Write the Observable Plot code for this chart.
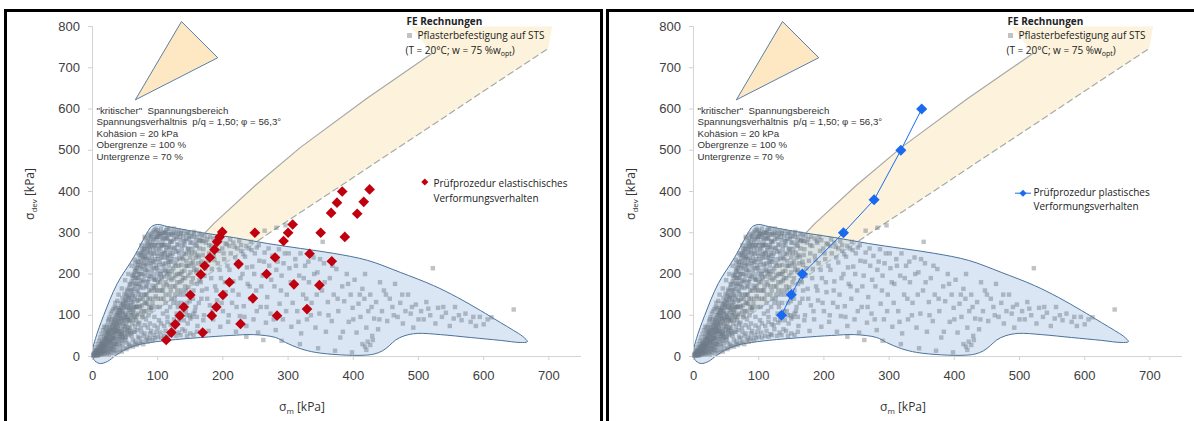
<!DOCTYPE html>
<html><head><meta charset="utf-8">
<script src="https://cdn.jsdelivr.net/npm/d3@7"></script>
<script src="https://cdn.jsdelivr.net/npm/@observablehq/plot@0.6"></script>
<style>
html,body{margin:0;padding:0;background:#fff;width:1194px;height:421px;overflow:hidden;position:relative;}
.frame{position:absolute;border:3px solid #000;box-sizing:border-box;}
.panel{position:absolute;top:0;width:600px;height:421px;}
</style></head><body>
<div class="frame" style="left:4px;top:9px;width:599px;height:440px"></div>
<div class="frame" style="left:606px;top:9px;width:600px;height:440px"></div>
<div id="left" class="panel" style="left:0px"></div>
<div id="right" class="panel" style="left:601px"></div>
<script>
const xTicks = [0,100,200,300,400,500,600,700];
const yTicks = [0,100,200,300,400,500,600,700,800];

// FE Rechnungen: Pflasterbefestigung auf STS  [sigma_m, sigma_dev] (kPa)
const feRechnungen = [
[2,3],[3,6],[4,4],[5,9],[6,7],[6,12],[7,5],[8,14],[8,9],[9,18],[10,11],[10,6],
[11,16],[12,22],[12,10],[13,28],[14,18],[14,13],[15,32],[15,24],[16,15],[16,38],[17,20],[17,28],[18,42],[18,12],[19,33],[19,25],[20,47],[20,18],
[21,36],[21,52],[22,22],[22,29],[23,43],[23,58],[24,16],[24,34],[25,64],[25,48],[26,26],[26,40],[27,70],[27,55],[28,20],[28,33],[29,60],[29,45],[30,76],[30,28],
[31,38],[31,52],[32,82],[32,66],[33,24],[33,44],[34,88],[34,58],[35,72],[35,32],[36,95],[36,48],[37,62],[37,80],[38,100],[38,36],[39,54],[39,70],[40,106],[40,86],[40,42],
[41,60],[41,92],[42,112],[42,76],[43,48],[43,100],[44,66],[44,120],[45,84],[45,40],[46,126],[46,54],[47,94],[47,110],[48,72],[48,132],[49,58],[49,88],[50,140],[50,104],
[51,46],[51,120],[52,150],[52,78],[53,96],[53,64],[54,158],[54,130],[55,112],[55,52],[56,166],[56,86],[57,142],[57,70],[58,124],[58,174],[59,100],[59,56],[60,182],[60,150],
[61,80],[61,114],[62,190],[62,132],[63,60],[63,164],[64,198],[64,96],[65,146],[65,72],[66,206],[66,176],[67,120],[67,88],[68,214],[68,158],[69,64],[69,190],[70,222],[70,104],[70,136],
[71,230],[71,170],[72,82],[72,200],[73,238],[73,120],[74,150],[74,70],[75,246],[75,184],[76,212],[76,96],[77,254],[77,140],[78,226],[78,166],[79,262],[79,110],[80,196],[80,240],[80,76],
[81,268],[81,150],[82,222],[82,90],[83,274],[83,182],[84,250],[84,128],[85,280],[85,206],[86,100],[86,238],[87,286],[87,160],[88,260],[88,80],[89,292],[89,194],[90,226],[90,118],
[91,298],[91,270],[92,172],[92,250],[93,302],[93,140],[94,214],[94,284],[95,96],[95,306],[96,236],[96,186],[97,260],[97,310],[98,120],[98,290],[99,200],[99,160],[100,306],[100,244],
[101,276],[102,88],[102,222],[103,298],[104,180],[104,262],[105,140],[105,310],[106,240],[107,208],[107,286],[108,104],[108,160],[109,300],[110,252],[110,194],
[111,270],[112,226],[112,130],[113,306],[114,174],[114,288],[115,96],[116,246],[116,208],[117,296],[118,150],[118,266],[119,120],[120,230],[120,300],
[121,186],[122,278],[123,76],[123,250],[124,214],[125,300],[126,140],[126,262],[127,196],[128,286],[129,104],[129,236],[130,160],[130,272],
[131,296],[132,220],[133,88],[133,250],[134,180],[135,282],[136,130],[137,260],[137,206],[138,66],[139,292],[139,236],[140,150],
[141,270],[142,190],[143,110],[143,248],[144,296],[145,220],[146,80],[147,262],[147,168],[148,286],[149,134],[150,240],[150,204],
[152,276],[153,96],[154,230],[155,160],[156,290],[157,252],[158,120],[159,206],[160,268],
[161,74],[163,242],[164,184],[165,282],[167,140],[168,222],[170,260],[171,100],[172,196],[174,276],[175,164],[177,232],[178,62],[179,250],[180,124],
[182,268],[183,212],[185,90],[186,244],[188,170],[189,280],[191,136],[192,226],[194,256],[196,72],[197,190],[199,262],[200,110],
[202,236],[204,156],[206,272],[208,84],[210,210],[212,250],[214,130],[216,182],[218,266],[220,60],[222,228],[224,150],[226,98],[228,256],[230,200],
[232,122],[234,242],[236,74],[238,176],[240,262],[242,140],[245,218],[247,90],[249,250],[251,160],[254,58],[256,232],[258,120],
[261,196],[264,252],[266,82],[268,144],[271,220],[273,104],[276,244],[279,170],[281,64],[284,230],[287,128],[290,196],[292,90],[295,250],[298,150],
[302,214],[305,72],[308,176],[311,236],[314,110],[317,196],[320,56],[323,150],[326,220],[329,90],[332,180],[336,130],[339,240],[342,70],[345,204],[348,104],
[352,160],[355,226],[358,60],[361,132],[364,190],[367,86],[370,150],[374,212],[377,110],[380,46],[383,170],[386,134],[390,200],[393,84],[396,150],[399,118],
[402,186],[405,58],[408,128],[411,96],[414,164],[417,140],[420,70],[423,110],[426,150],[429,50],[432,92],[435,132],[438,66],[441,180],[444,110],[447,160],
[452,86],[456,140],[460,120],[464,176],[468,96],[472,130],[476,80],[480,110],[484,150],[488,104],[492,70],[496,126],
[504,110],[508,90],[512,132],[518,100],[522,214],[526,80],[530,118],[536,96],[542,106],[548,74],[554,92],[556,120],
[566,88],[572,104],[580,84],[588,74],[594,96],[600,78],[606,90],[612,95],[646,114],
[353,278],[282,312],[296,318],[264,305],
[30,18],[36,22],[42,26],[46,30],[52,34],[56,30],[62,40],[66,36],[72,44],[78,50],[84,46],[88,56],[94,52],[98,60],[104,58],[112,62],[118,54],[124,66],[132,58],[142,62],[150,56],[160,60],
[95,270],[100,290],[105,296],[108,280],[112,300],[115,285],[118,310],[122,295],[125,310],[128,300],[132,306],[136,298],[140,304],[144,285],[148,300],[152,292],[156,302],[160,290],[164,298],[168,280],[172,292],[176,284],[180,290],[186,286],[190,276],[196,282],[204,274],[210,268],[216,276],[222,262],[228,270],[236,268],[244,258],[252,264],
[414,30],[418,24],[422,36],[426,28],[430,40],[420,16],[236,48],[262,40],[290,38],[318,30],[346,20],[372,14],[398,10],
[3,9],[5,3],[7,15],[9,4],[11,25],[13,8],[14,35],[16,26],[18,50],[19,8],[21,44],[22,62],[24,53],[25,12],[26,72],[27,36],[29,82],[31,62],[32,16],[33,90],[34,72],[35,100],[36,30],[37,108],[38,66],[39,90],[40,118],
[42,98],[43,130],[44,56],[45,108],[46,142],[47,80],[48,118],[49,152],[50,66],[51,96],[52,130],[53,162],[54,88],[55,140],[56,118],[57,176],[58,90],[59,160],[60,130],[61,196],[62,106],[63,178],[64,140],[65,210],[66,120],[67,190],[68,100],[69,230],[70,160],[71,200],[72,246],[73,140],[74,216],[75,110],[76,260],[77,180],[78,200],[79,236],[80,130],
[81,286],[82,170],[83,210],[84,262],[85,140],[86,296],[87,188],[88,232],[89,112],[90,270],[91,210],[92,130],[93,262],[94,166],[95,230],[96,290],[97,146],[98,214],[99,270],[100,180],[101,236],[102,300],[103,120],[104,200],[105,250],[106,160],[107,270],[108,224],[109,140],[110,290],[111,210],[112,180],[113,258],[114,110],[115,240],[116,296],[117,190],[118,230],[119,278],[120,160],
[121,244],[122,206],[123,296],[124,130],[125,264],[126,226],[127,170],[128,254],[129,290],[130,200],[131,120],[132,270],[133,238],[134,150],[135,300],[136,222],[137,184],[138,270],[139,110],[140,250],[141,208],[142,280],[143,160],[144,232],[145,130],[146,300],[147,196],[148,252],[149,100],[150,276],[151,226],[152,180],[153,260],[154,140],[155,298],[156,210],[157,110],[158,240],[159,280],[160,176],[162,226],[163,130],[164,262],[166,200],[167,294],[168,160],[169,246],[170,88],
[173,214],[176,140],[179,270],[182,190],[184,110],[187,234],[190,160],[193,290],[195,210],[198,130],[201,250],[203,180],[207,220],[209,100],[211,284],[215,160],[219,240],[221,120],[225,280],[227,190],[231,248],[233,96],[237,216],[241,170],[243,278],[248,200],[252,110],[255,270],[259,170],[263,230],[267,120],[270,262],[274,186],[278,90],[282,210],[286,260],[289,160],[293,226],[297,110],[301,250],[304,180],[307,130],[312,220],[316,84],[319,250],[324,190],[328,140],[331,230],[335,100],[340,200],[344,150],[349,236],[356,180],[362,100],[368,220],[376,140],[384,60],[392,176],[400,90],[410,150],[418,200],[428,120],[440,90],[450,150],[462,100],[475,150],[490,120],[500,90],[515,116],[538,120],[562,100],[584,96],
[20,70],[25,90],[30,110],[35,130],[40,150],[45,165],[50,185],[55,200],[60,220],[65,235],[70,250],[75,270],[80,290],
[1,2],[2,5],[3,2],[4,8],[5,12],[6,4],[7,10],[8,6],[9,13],[10,20],[11,8],[12,16],[13,20],[14,26],[15,10],[16,30],[17,14],[18,24],[19,40],[20,30],[21,14],[22,40],[23,26],[24,60],[25,38],[26,50],[27,18],[28,64],[29,28],[30,50],
[31,70],[32,44],[33,78],[34,30],[35,60],[36,84],[37,42],[38,76],[39,104],[40,60],[41,80],[42,50],[43,116],[44,92],[45,62],[46,104],[47,46],[48,90],[49,122],[50,74],[51,136],[52,100],[53,56],[54,120],[55,90],[56,148],[57,108],[58,62],[59,138],[60,100],[41,112],[44,38],[47,128],[50,48],[53,146],[56,60],[59,120],[36,64],[33,54],[30,40],
[61,160],[62,88],[63,200],[64,120],[65,170],[66,96],[67,216],[68,136],[69,178],[70,78],[71,190],[72,122],[73,220],[74,168],[75,200],[76,124],[77,240],[78,186],[79,150],[80,260],[81,210],[82,130],[83,236],[84,170],[85,254],[86,196],[87,120],[88,276],[89,220],[90,160],[62,150],[65,190],[68,120],[71,150],[74,250],[77,100],[80,220],[83,150],[86,270],[89,250],[66,226],[69,206],[72,176],[75,228],[78,250],[81,244],[84,226],[87,266],[90,290],[63,110],
[91,240],[92,200],[93,280],[94,250],[95,186],[96,270],[97,220],[98,300],[99,250],[100,210],[101,296],[102,260],[103,230],[104,290],[105,200],[106,270],[107,248],[108,300],[109,220],[110,270],[111,250],[112,286],[113,206],[114,264],[115,310],[116,230],[117,270],[118,200],[119,250],[120,280],[93,230],[96,160],[99,286],[102,190],[105,270],[108,240],[111,300],[114,240],[117,220],[120,260],
[122,236],[125,284],[128,220],[131,256],[134,290],[137,240],[140,280],[143,220],[146,260],[149,290],[152,250],[155,220],[158,270],[161,246],[164,280],[167,230],[170,280],[124,190],[130,180],[136,200],[142,170],[148,220],[154,190],[160,210],[166,180],
[4,15],[6,22],[8,30],[10,38],[12,46],[14,55],[16,64],[18,72],[20,60],[22,75],[24,85],[26,95],[28,104],[30,92],[32,115],[34,120],[36,118],[38,135],
[8,2],[12,4],[15,6],[18,5],[22,8],[25,5],[28,10],[32,8],[35,14],[38,10],[42,16],[45,12],[48,20],[52,18],[55,22],[58,26],[62,24],[65,30],[68,28],[72,32],[75,36],[78,30],[82,40],[85,36],[88,44],[92,40],[96,44],[100,48],[105,46],[110,50],[115,48],[120,52],[128,50],[135,52],[145,50],[155,52],
[40,30],[45,50],[50,40],[55,70],[60,50],[65,60],[70,48],[75,60],[80,56],[85,70],[90,62],[95,75],[100,70],[105,80],[110,74],[115,84],[120,78],[125,90],[130,82],[135,96],[140,88],[145,100],[150,92],[155,104],[160,96],
[82,110],[85,180],[88,140],[91,120],[94,190],[97,170],[100,140],[103,160],[106,190],[109,170],[112,150],[115,200],[118,170],[121,140],[124,170],[127,150],[130,130],[133,200],[136,160],[139,190]
];

// Envelope of FE results (closed outline)
const envelope = [[0,0],[4.6,-12],[12,-17],[23,-12],[35,2],[47.5,14.5],[66,27],[89,34],[127,41],[166,46],[212,51],[247,53],[281,46],[296,34],[319,19],[342,10],[380,4],[415,3],[432,6],[445,14],[455,26],[465,40],[478,50],[498,56],[534,53],[580,46],[626,39],[656,34],[667,36],[660,48.5],[646,63],[626,82],[595,111.5],[560,143],[523,172],[472,204],[422,233],[370,250],[319,262],[268,274],[216,288.5],[166,300.6],[115,315],[100,320],[90.5,315],[84,300.6],[63,240],[38,177],[17,99],[4.6,43.6],[0,14.5]];

// Critical stress range: upper (100 %) and lower (70 %) bounds
const bandUpper = [[0,10],[40,85],[89,160],[186,322],[250,415],[319,507],[420,625],[521,735]];
const bandLower = [[0,8],[270,298],[699,747]];
const bandTop = [[705,800],[488,800]];

// Callout triangle
const callout = [[66,623],[136.5,812],[191.7,725]];

// Prüfprozedur elastisches Verformungsverhalten
const elastic = [[113,40],[121,58],[127,78],[134,99],[140,120],[150,149],[166,199],[172,220],[180,240],[187,259],[191,278],[195,290],[199,302],
[169,58],[183,99],[190,120],[200,149],[210,180],[224,224],
[227,79],[246,141],[267,200],[249,300],[280,240],[283,99],[293,280],[300,300],[307,320],[309,175],[329,115],[333,249],[348,173],[350,300],[367,231],[366,348],[375,373],[383,400],[387,290],[406,346],[416,375],[425,405]];

// Prüfprozedur plastisches Verformungsverhalten
const plastic = [[135,100],[150,150],[167,200],[230,300],[277,380],[318,500],[350,600]];

const annotationLines = ['"kritischer"  Spannungsbereich','Spannungsverhältnis  p/q = 1,50; φ = 56,3°','Kohäsion = 20 kPa','Obergrenze = 100 %','Untergrenze = 70 %'];
const feLegendTitle = "FE Rechnungen";
const feLegendSeries = "Pflasterbefestigung auf STS";
const elasticLabel = ["Prüfprozedur elastischisches","Verformungsverhalten"];
const plasticLabel = ["Prüfprozedur plastisches","Verformungsverhalten"];

const W = 600, H = 421, ML = 92, MR = 19, MT = 26, MB = 65;
const px2x = px => (px - ML) * 750 / (W - MR - ML);
const px2y = py => (H - MB - py) * 800 / (H - MB - MT);
const X = d => d[0], Y = d => d[1];
const bandPolygon = [...bandLower, ...bandTop, ...bandUpper.slice().reverse()];
const legendFont = {fontFamily: "Open Sans", fontSize: 10, fill: "#222", textAnchor: "start", lineAnchor: "middle", frameAnchor: "top-left"};
const at = (px, py) => ({dx: px - ML, dy: py - MT});

function panel(kind) {
  const marks = [
    Plot.line(bandPolygon, {x: X, y: Y, fill: "#fdf3dc", curve: "linear-closed"}),
    Plot.line(bandUpper, {x: X, y: Y, stroke: "#a8a8a8", strokeWidth: 1.2}),
    Plot.line(bandLower, {x: X, y: Y, stroke: "#a2aba7", strokeWidth: 1.2, strokeDasharray: "6,4"}),
    Plot.line(envelope, {x: X, y: Y, fill: "#bcd2ea", fillOpacity: 0.55, stroke: "#4a729b", strokeWidth: 1, curve: "catmull-rom-closed"}),
    Plot.ruleY([0], {stroke: "#d4d4d4"}),
    Plot.ruleX([0], {stroke: "#d4d4d4"}),
    Plot.axisX(xTicks, {tickSize: 4, tickPadding: 10, stroke: "#d0d0d0", fill: "#404040", fontSize: 13, fontFamily: "Liberation Sans", label: null}),
    Plot.axisY(yTicks, {tickSize: 4, tickPadding: 8.5, stroke: "#d0d0d0", fill: "#404040", fontSize: 13, fontFamily: "Liberation Sans", label: null}),
    Plot.dot(feRechnungen, {x: X, y: Y, symbol: "square", r: 2.5, fill: "#6d7987", fillOpacity: 0.45}),
    Plot.line(callout, {x: X, y: Y, fill: "#fde8c3", stroke: "#5b7fa3", strokeWidth: 1, curve: "linear-closed"}),
    Plot.text([annotationLines.join("\n")], {frameAnchor: "top-left", ...at(96, 105), lineAnchor: "top", textAnchor: "start", lineHeight: 1.19, fontFamily: "Liberation Sans", fontSize: 9.7, fill: "#333"}),
    Plot.text([feLegendTitle], {...legendFont, ...at(406, 21.5), fontWeight: "bold"}),
    Plot.dot([0], {frameAnchor: "top-left", ...at(409, 35), symbol: "square", r: 2.8, fill: "#c2c2c2"}),
    Plot.text([feLegendSeries], {...legendFont, ...at(417, 35)})
  ];
  if (kind === "elastic") {
    marks.push(
      Plot.dot(elastic, {x: X, y: Y, symbol: "diamond2", r: 4.8, fill: "#c0000e"}),
      Plot.dot([0], {frameAnchor: "top-left", ...at(424.3, 181.5), symbol: "diamond2", r: 3.2, fill: "#c0000e"}),
      Plot.text([elasticLabel[0]], {...legendFont, ...at(433, 183.3)}),
      Plot.text([elasticLabel[1]], {...legendFont, ...at(433, 198)})
    );
  } else {
    marks.push(
      Plot.line(plastic, {x: X, y: Y, stroke: "#1a6af0", strokeWidth: 1}),
      Plot.dot(plastic, {x: X, y: Y, symbol: "diamond2", r: 5, fill: "#1a6af0"}),
      Plot.ruleY([px2y(192.7)], {x1: px2x(414), x2: px2x(430), stroke: "#1a6af0", strokeWidth: 1}),
      Plot.dot([0], {frameAnchor: "top-left", ...at(421.5, 192.7), symbol: "diamond2", r: 3.2, fill: "#1a6af0"}),
      Plot.text([plasticLabel[0]], {...legendFont, ...at(432, 192.7)}),
      Plot.text([plasticLabel[1]], {...legendFont, ...at(432, 206)})
    );
  }
  const svg = Plot.plot({
    width: W, height: H, marginLeft: ML, marginRight: MR, marginTop: MT, marginBottom: MB,
    x: {domain: [0, 750]}, y: {domain: [0, 800]},
    style: {background: "transparent", overflow: "visible", fontFamily: "Liberation Sans, Arial, sans-serif", color: "#404040"},
    marks
  });
  const s = d3.select(svg);
  // y-axis title with subscript
  const yt = s.append("text").attr("transform", "translate(34,194) rotate(-90)").attr("text-anchor", "middle")
    .attr("font-family", "Open Sans").attr("font-size", 12).attr("fill", "#333");
  yt.append("tspan").text("σ");
  yt.append("tspan").attr("font-size", 8).attr("dy", 3).text("dev");
  yt.append("tspan").attr("dy", -3).text(" [kPa]");
  // x-axis title
  const xt = s.append("text").attr("x", 302).attr("y", 411).attr("text-anchor", "middle")
    .attr("font-family", "Open Sans").attr("font-size", 12).attr("fill", "#333");
  xt.append("tspan").text("σ");
  xt.append("tspan").attr("font-size", 8).attr("dy", 3).text("m");
  xt.append("tspan").attr("dy", -3).text(" [kPa]");
  // legend condition line with subscript
  const ct = s.append("text").attr("x", 405.5).attr("y", 53.5).attr("text-anchor", "start")
    .attr("font-family", "Open Sans").attr("font-size", 10).attr("fill", "#222");
  ct.append("tspan").text("(T = 20°C; w = 75 %w");
  ct.append("tspan").attr("font-size", 7).attr("dy", 2).text("opt");
  ct.append("tspan").attr("dy", -2).text(")");
  return svg;
}
document.getElementById("left").appendChild(panel("elastic"));
document.getElementById("right").appendChild(panel("plastic"));
</script>
</body></html>
